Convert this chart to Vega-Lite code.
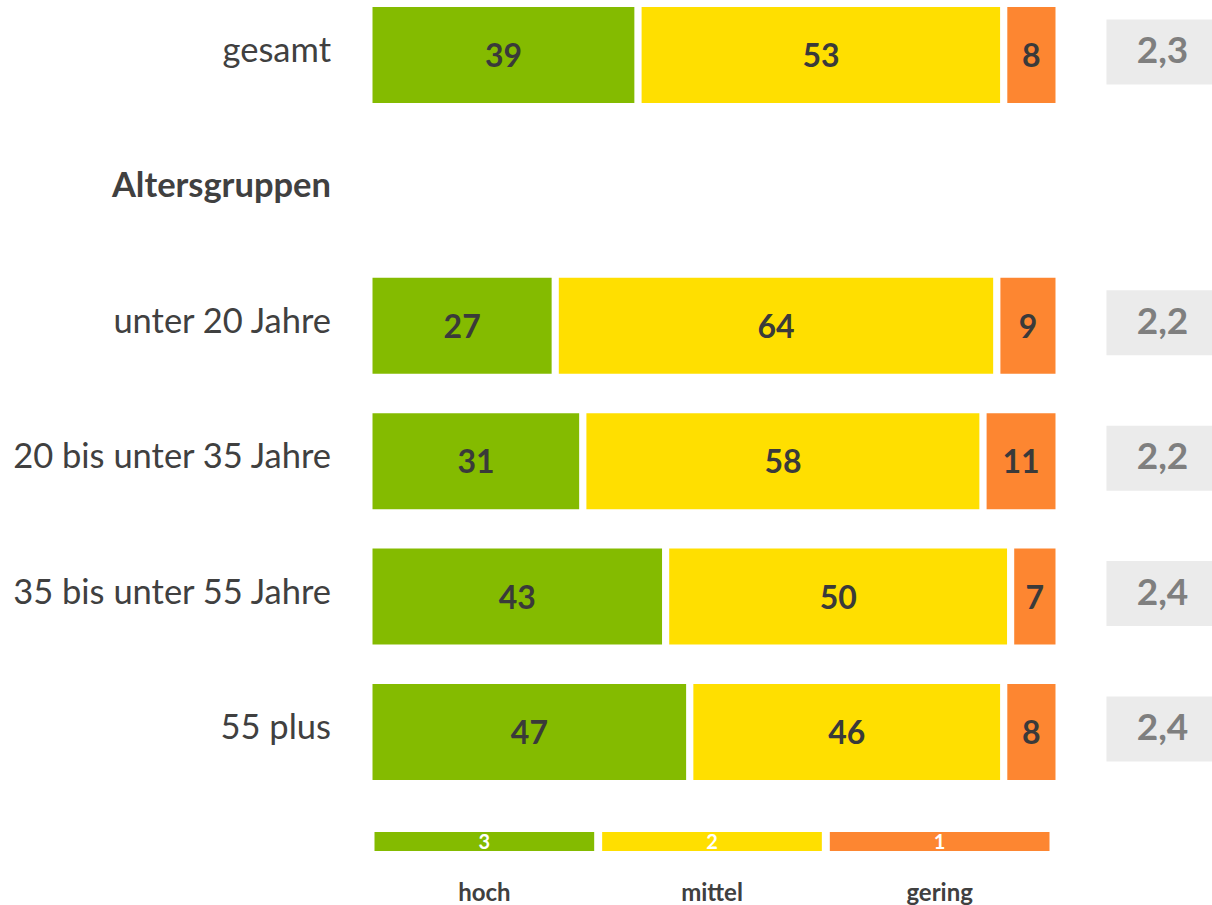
{
  "$schema": "https://vega.github.io/schema/vega-lite/v6.json",
  "padding": 0,
  "background": "white",
  "bounds": "flush",
  "spacing": 45,
  "config": {
    "view": {"stroke": null},
    "font": "Lato",
    "locale": {"number": {"decimal": ",", "thousands": ".", "grouping": [3], "currency": ["", " €"]}}
  },
  "datasets": {
    "anteile": [
      {"gruppe": "gesamt", "bewertung": "hoch", "stufe": 3, "anteil": 39},
      {"gruppe": "gesamt", "bewertung": "mittel", "stufe": 2, "anteil": 53},
      {"gruppe": "gesamt", "bewertung": "gering", "stufe": 1, "anteil": 8},
      {"gruppe": "unter 20 Jahre", "bewertung": "hoch", "stufe": 3, "anteil": 27},
      {"gruppe": "unter 20 Jahre", "bewertung": "mittel", "stufe": 2, "anteil": 64},
      {"gruppe": "unter 20 Jahre", "bewertung": "gering", "stufe": 1, "anteil": 9},
      {"gruppe": "20 bis unter 35 Jahre", "bewertung": "hoch", "stufe": 3, "anteil": 31},
      {"gruppe": "20 bis unter 35 Jahre", "bewertung": "mittel", "stufe": 2, "anteil": 58},
      {"gruppe": "20 bis unter 35 Jahre", "bewertung": "gering", "stufe": 1, "anteil": 11},
      {"gruppe": "35 bis unter 55 Jahre", "bewertung": "hoch", "stufe": 3, "anteil": 43},
      {"gruppe": "35 bis unter 55 Jahre", "bewertung": "mittel", "stufe": 2, "anteil": 50},
      {"gruppe": "35 bis unter 55 Jahre", "bewertung": "gering", "stufe": 1, "anteil": 7},
      {"gruppe": "55 plus", "bewertung": "hoch", "stufe": 3, "anteil": 46.5},
      {"gruppe": "55 plus", "bewertung": "mittel", "stufe": 2, "anteil": 45.5},
      {"gruppe": "55 plus", "bewertung": "gering", "stufe": 1, "anteil": 8}
    ],
    "mittelwerte": [
      {"gruppe": "gesamt", "mittelwert": 2.3},
      {"gruppe": "unter 20 Jahre", "mittelwert": 2.2},
      {"gruppe": "20 bis unter 35 Jahre", "mittelwert": 2.2},
      {"gruppe": "35 bis unter 55 Jahre", "mittelwert": 2.4},
      {"gruppe": "55 plus", "mittelwert": 2.4}
    ],
    "legende": [
      {"bewertung": "hoch", "stufe": 3},
      {"bewertung": "mittel", "stufe": 2},
      {"bewertung": "gering", "stufe": 1}
    ]
  },
  "vconcat": [
    {
      "width": 843.5,
      "height": 787,
      "encoding": {
        "y": {
          "field": "gruppe",
          "type": "nominal",
          "scale": {
            "domain": ["gesamt", "Altersgruppen", "unter 20 Jahre", "20 bis unter 35 Jahre", "35 bis unter 55 Jahre", "55 plus"],
            "paddingInner": 0.2393,
            "paddingOuter": 0.02585
          },
          "axis": {
            "title": null,
            "domain": false,
            "ticks": false,
            "tickSize": 0,
            "grid": false,
            "labelPadding": 38.5,
            "labelFontSize": 34.5,
            "labelFont": "Lato",
            "labelColor": "#404040",
            "labelFontWeight": {"expr": "datum.value === 'Altersgruppen' ? 'bold' : 'normal'"},
            "labelOffset": -3,
            "labelLimit": 400,
            "minExtent": 368.5,
            "maxExtent": 368.5
          }
        }
      },
      "layer": [
        {
          "data": {"name": "anteile"},
          "mark": {"type": "bar", "stroke": "white", "strokeWidth": 7},
          "encoding": {
            "x": {"field": "anteil", "type": "quantitative", "stack": "zero", "scale": {"domain": [0, 122.246], "nice": false}, "axis": null},
            "color": {"field": "bewertung", "type": "nominal", "scale": {"domain": ["hoch", "mittel", "gering"], "range": ["#84BB00", "#FFDF00", "#FD8631"]}, "legend": null},
            "order": {"field": "stufe", "sort": "descending"}
          }
        },
        {
          "data": {"name": "anteile"},
          "mark": {"type": "text", "fontSize": 32, "fontWeight": "bold", "color": "#3A3A3A", "baseline": "middle", "dy": 2},
          "encoding": {
            "x": {"field": "anteil", "type": "quantitative", "stack": "zero", "bandPosition": 0.5},
            "detail": {"field": "bewertung"},
            "order": {"field": "stufe", "sort": "descending"},
            "text": {"field": "anteil", "type": "quantitative", "format": ".0f"}
          }
        },
        {
          "data": {"name": "mittelwerte"},
          "mark": {"type": "bar", "color": "#EBEBEB", "height": 65, "yOffset": -3},
          "encoding": {
            "x": {"datum": 106.88, "type": "quantitative"},
            "x2": {"datum": 122.246}
          }
        },
        {
          "data": {"name": "mittelwerte"},
          "mark": {"type": "text", "fontSize": 37, "fontWeight": "bold", "color": "#7F7F7F", "baseline": "middle", "yOffset": -3},
          "encoding": {
            "x": {"datum": 115.0, "type": "quantitative"},
            "text": {"field": "mittelwert", "type": "quantitative", "format": ".1f"}
          }
        }
      ]
    },
    {
      "width": 680.5,
      "height": 19,
      "data": {"name": "legende"},
      "encoding": {
        "x": {
          "field": "bewertung",
          "type": "nominal",
          "sort": ["hoch", "mittel", "gering"],
          "scale": {"paddingInner": 0.035, "paddingOuter": 0.01208, "align": 1},
          "axis": {
            "title": null,
            "domain": false,
            "ticks": false,
            "tickSize": 0,
            "labelAngle": 0,
            "labelPadding": 49,
            "labelBaseline": "alphabetic",
            "labelFontSize": 24,
            "labelFont": "Lato",
            "labelFontWeight": "bold",
            "labelColor": "#404040"
          }
        }
      },
      "layer": [
        {
          "mark": {"type": "bar"},
          "encoding": {
            "color": {"field": "bewertung", "type": "nominal", "scale": {"domain": ["hoch", "mittel", "gering"], "range": ["#84BB00", "#FFDF00", "#FD8631"]}, "legend": null}
          }
        },
        {
          "mark": {"type": "text", "color": "white", "fontSize": 20, "fontWeight": "bold", "baseline": "middle", "dy": 1},
          "encoding": {
            "text": {"field": "stufe", "type": "quantitative"}
          }
        }
      ]
    }
  ]
}
